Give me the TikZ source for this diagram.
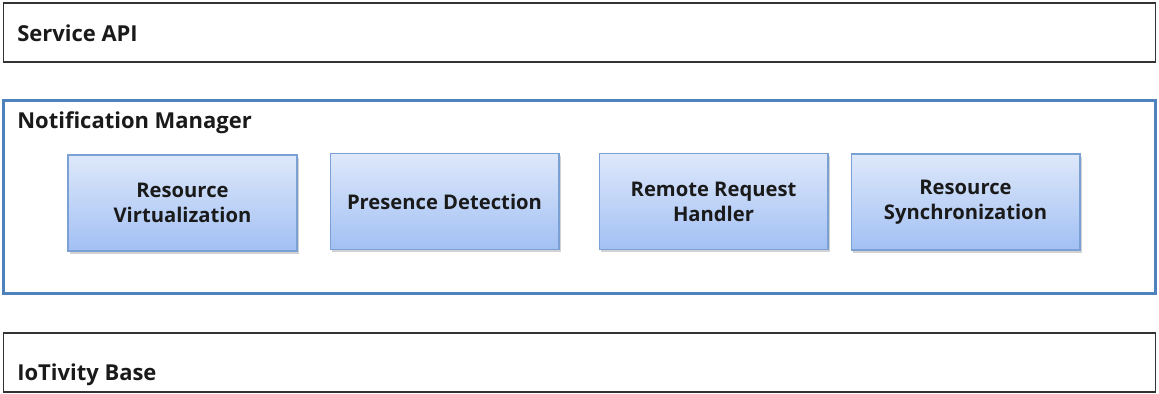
\documentclass[tikz,border=0pt]{standalone}
\usepackage{fontspec}
\setmainfont{Open Sans}
\usepackage{tikz}
\usetikzlibrary{shadows}
\usetikzlibrary{positioning}
\definecolor{boxtop}{HTML}{DEE8FA}
\definecolor{boxbottom}{HTML}{A2C0F4}
\definecolor{boxline}{HTML}{7BA0D4}
\definecolor{mgrline}{HTML}{4F81BD}
\definecolor{txt}{HTML}{1A1A1A}
\tikzstyle{layer}=[rectangle,draw=black!80,line width=0.6pt,minimum width=23.06cm,minimum height=1.18cm,inner sep=0pt]
\tikzstyle{manager}=[rectangle,draw=mgrline,line width=1.7pt,minimum width=23.06cm,minimum height=3.86cm,inner sep=0pt]
\tikzstyle{module}=[rectangle,draw=boxline,line width=0.6pt,top color=boxtop,bottom color=boxbottom,minimum width=4.58cm,minimum height=1.92cm,align=center,font=\fontsize{11.5}{14.2}\selectfont\bfseries,text=txt,drop shadow={shadow xshift=1.2pt,shadow yshift=-1.5pt,opacity=0.35}]
\tikzstyle{title} = [anchor=west,font=\fontsize{12.5}{15}\selectfont\bfseries,text=txt,inner sep=0pt]

\begin{document}
\begin{tikzpicture}[x=0.02cm,y=-0.02cm]
   \useasboundingbox[fill=white] (0,0) rectangle (1159,394);

   \node[layer] (serviceapi) at (579.5,32.5) {};
   \node[title] (serviceapititle) at (17,33) {Service API};

   \node[manager] (notimgr) at (579.5,197) {};
   \node[title] (notimgrtitle) at (17,123) {Notification Manager};

    \foreach \pos/\name/\txt in {{(182.5,203)/resvirt/{Resource\\Virtualization}}, {(444.5,201.5)/presdet/{Presence Detection}}, {(713.5,201.5)/remreq/{Remote Request\\Handler}}, {(965.5,202)/ressync/{Resource\\Synchronization}}}
        \node[module] (\name) at \pos {\txt};

   \node[layer] (iotbase) at (579.5,362.5) {};
   \node[title] (iotbasetitle) at (17,375) {IoTivity Base};

\end{tikzpicture}
\end{document}
